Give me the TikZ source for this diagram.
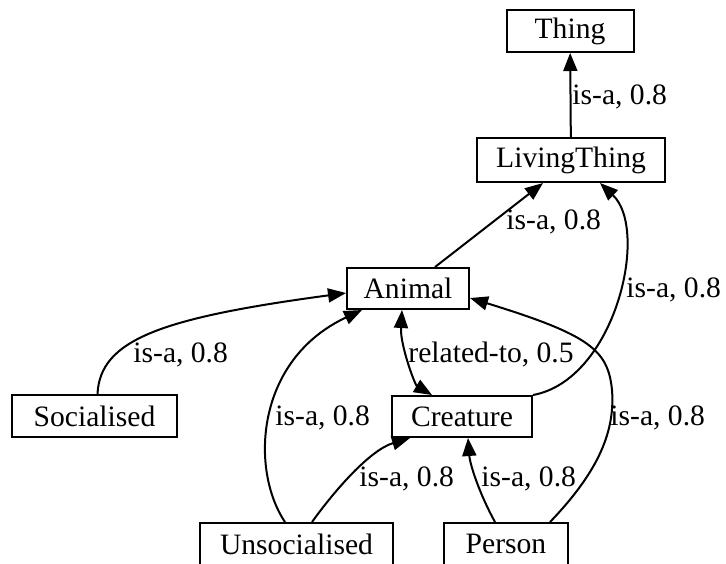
\documentclass[tikz,border=0pt]{standalone}
\usepackage{fontspec}
\setmainfont{Liberation Serif}
\usetikzlibrary{arrows.meta}
\begin{document}
\begin{tikzpicture}[x=0.5pt,y=-0.5pt,
  concept/.style={draw,line width=1pt,inner sep=0pt,font=\fontsize{14.8}{17}\selectfont},
  edgelabel/.style={inner sep=0pt,anchor=west,font=\fontsize{14.8}{17}\selectfont},
  link/.style={line width=1pt,-{Triangle[length=9pt,width=7pt]}},
  twoway/.style={line width=1pt,{Triangle[length=9pt,width=7pt]}-{Triangle[length=9pt,width=7pt]}}]
\useasboundingbox (0,0) rectangle (726,563);

% concepts
\node[concept,minimum width=63.5pt,minimum height=21pt] (thing) at (570,31) {Thing};
\node[concept,minimum width=94pt,minimum height=22pt] (living) at (571,160) {LivingThing};
\node[concept,minimum width=61pt,minimum height=20.5pt] (animal) at (408,288.5) {Animal};
\node[concept,minimum width=82.5pt,minimum height=21pt] (social) at (94.5,416) {Socialised};
\node[concept,minimum width=70pt,minimum height=20.5pt] (creature) at (462,416.5) {Creature};
\node[concept,minimum width=96.5pt,minimum height=21pt] (unsoc) at (296.5,544) {Unsocialised};
\node[concept,minimum width=62pt,minimum height=21pt] (person) at (506,544) {Person};

% relations
\draw[link] (living) -- (thing);
\draw[link] ([xshift=13.5pt]animal.north) -- ([xshift=-14pt]living.south);
\draw[link] (creature.north east) .. controls (615,380) and (650,230) .. ([xshift=14.5pt]living.south);
\draw[twoway] ([xshift=-3pt]animal.south) .. controls (400,345) and (415,385) .. ([xshift=-15pt]creature.north);
\draw[link] ([xshift=1.5pt]social.north) .. controls (100,340) and (160,318) .. ([yshift=-2.25pt]animal.west);
\draw[link] ([xshift=-5.75pt]unsoc.north) .. controls (250,470) and (255,360) .. ([xshift=-23pt]animal.south);
\draw[link] ([xshift=7.75pt]unsoc.north) .. controls (335,490) and (370,450) .. ([xshift=-26pt]creature.south);
\draw[link] ([xshift=-5.5pt]person.north) .. controls (480,495) and (470,465) .. ([xshift=3pt]creature.south);
\draw[link] ([xshift=22pt]person.north) .. controls (600,470) and (615,430) .. (612,390)
  .. controls (608,350) and (590,335) .. ([yshift=-4.75pt]animal.east);

% relation labels
\node[edgelabel] (l1) at (572,97) {is-a, 0.8};
\node[edgelabel] (l2) at (506,222) {is-a, 0.8};
\node[edgelabel] (l3) at (626,290) {is-a, 0.8};
\node[edgelabel] (l4) at (408,354) {related-to, 0.5};
\node[edgelabel] (l5) at (133,355) {is-a, 0.8};
\node[edgelabel] (l6) at (275,418) {is-a, 0.8};
\node[edgelabel] (l7) at (359,479) {is-a, 0.8};
\node[edgelabel] (l8) at (481,479) {is-a, 0.8};
\node[edgelabel] (l9) at (610,418) {is-a, 0.8};
\end{tikzpicture}
\end{document}
